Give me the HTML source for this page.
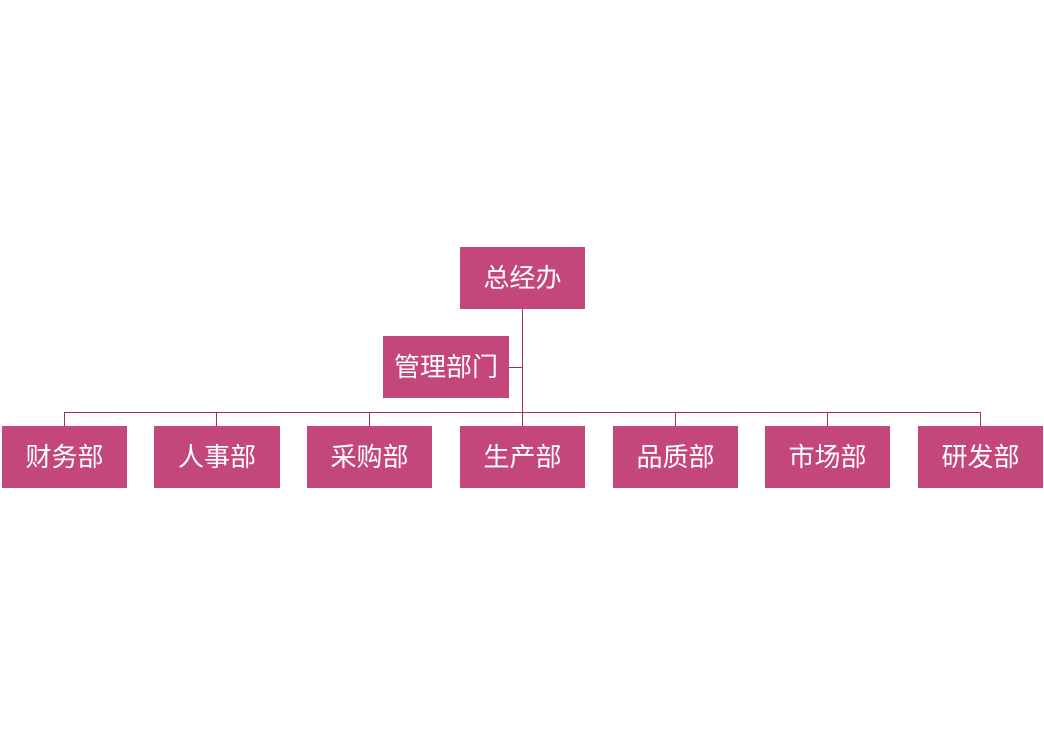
<!DOCTYPE html>
<html><head><meta charset="utf-8"><style>
html,body{margin:0;padding:0;background:#fff;}
body{width:1044px;height:734px;position:relative;overflow:hidden;font-family:"Liberation Sans","Noto Sans CJK SC","WenQuanYi Zen Hei",sans-serif;}
.b{position:absolute;width:125px;height:62px;background:#C4477B;color:#fff;font-size:26px;display:flex;align-items:center;justify-content:center;box-sizing:border-box;padding-bottom:0px;line-height:1;}
.l{position:absolute;background:#A3305F;}
</style></head><body>
<div class="l" style="left:522px;top:309px;width:1px;height:117px"></div>
<div class="l" style="left:509px;top:367px;width:13px;height:1px"></div>
<div class="l" style="left:64px;top:412px;width:917px;height:1px"></div>
<div class="l" style="left:64px;top:412px;width:1px;height:14px"></div>
<div class="l" style="left:216px;top:412px;width:1px;height:14px"></div>
<div class="l" style="left:369px;top:412px;width:1px;height:14px"></div>
<div class="l" style="left:675px;top:412px;width:1px;height:14px"></div>
<div class="l" style="left:827px;top:412px;width:1px;height:14px"></div>
<div class="l" style="left:980px;top:412px;width:1px;height:14px"></div>
<div class="b" style="left:460px;top:247px">总经办</div>
<div class="b" style="left:383px;top:336px;width:126px">管理部门</div>
<div class="b" style="left:2px;top:426px">财务部</div>
<div class="b" style="left:154px;top:426px;width:126px">人事部</div>
<div class="b" style="left:307px;top:426px">采购部</div>
<div class="b" style="left:460px;top:426px">生产部</div>
<div class="b" style="left:613px;top:426px">品质部</div>
<div class="b" style="left:765px;top:426px">市场部</div>
<div class="b" style="left:918px;top:426px">研发部</div>
</body></html>
